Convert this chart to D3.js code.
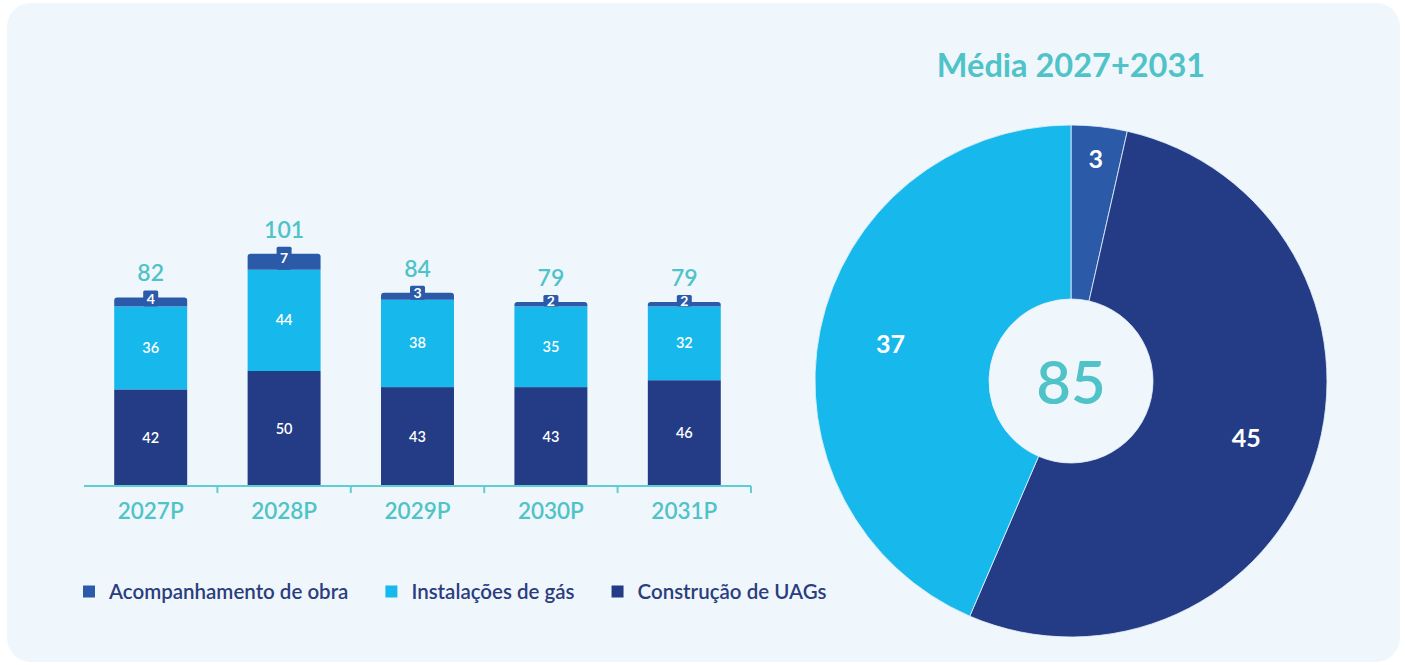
<!DOCTYPE html>
<html>
<head>
<meta charset="utf-8">
<script src="https://cdn.jsdelivr.net/npm/d3@7/dist/d3.min.js"></script>
<style>
  html, body { margin: 0; padding: 0; background: #ffffff; }
  svg { display: block; font-family: "Lato", "Open Sans", sans-serif; }
</style>
</head>
<body>
<svg id="chart" width="1405" height="665"></svg>
<script>
// Yearly investment by component (stacked, bottom to top)
const years = ["2027P", "2028P", "2029P", "2030P", "2031P"];
const construcao = [42, 50, 43, 43, 46];
const instalacoes = [36, 44, 38, 35, 32];
const acompanhamento = [4, 7, 3, 2, 2];
const totals = [82, 101, 84, 79, 79];

// Average split for the donut
const donutLabels = ["Acompanhamento de obra", "Construção de UAGs", "Instalações de gás"];
const donutValues = [3, 45, 37];
const donutTotal = 85;
const donutTitle = "Média 2027+2031";

const seriesNames = ["Acompanhamento de obra", "Instalações de gás", "Construção de UAGs"];
const colors = {
  "Acompanhamento de obra": "#2b5aa9",
  "Instalações de gás": "#17b8eb",
  "Construção de UAGs": "#233c85"
};
const teal = "#4fc3c7";
const panelFill = "#eff7fd";

const svg = d3.select("#chart");

// panel
svg.append("rect")
  .attr("x", 7).attr("y", 3).attr("width", 1393).attr("height", 659)
  .attr("rx", 24).attr("fill", panelFill);

// ---------- stacked bars ----------
const x = d3.scaleBand().domain(years).range([84, 751])
  .paddingInner(0.453).paddingOuter(0.2265);
const y = d3.scaleLinear().domain([0, 100]).range([486, 256]);

const rows = years.map((yr, i) => ({
  year: yr,
  "Construção de UAGs": construcao[i],
  "Instalações de gás": instalacoes[i],
  "Acompanhamento de obra": acompanhamento[i],
  total: totals[i]
}));
const stack = d3.stack().keys(["Construção de UAGs", "Instalações de gás", "Acompanhamento de obra"]);
const stacked = stack(rows);

const bars = svg.append("g");
const bw = x.bandwidth();

stacked.forEach(layer => {
  const isTop = layer.key === "Acompanhamento de obra";
  layer.forEach(d => {
    const x0 = x(d.data.year);
    const yTop = y(d[1]), yBot = y(d[0]);
    if (isTop) {
      const r = 3;
      const p = d3.path();
      p.moveTo(x0, yBot);
      p.lineTo(x0, yTop + r);
      p.quadraticCurveTo(x0, yTop, x0 + r, yTop);
      p.lineTo(x0 + bw - r, yTop);
      p.quadraticCurveTo(x0 + bw, yTop, x0 + bw, yTop + r);
      p.lineTo(x0 + bw, yBot);
      p.closePath();
      bars.append("path").attr("d", p.toString()).attr("fill", colors[layer.key]);
    } else {
      bars.append("rect")
        .attr("x", x0).attr("y", yTop)
        .attr("width", bw).attr("height", yBot - yTop)
        .attr("fill", colors[layer.key]);
    }
  });
});

// segment value labels for the two lower layers
stacked.slice(0, 2).forEach(layer => {
  layer.forEach(d => {
    bars.append("text")
      .attr("x", x(d.data.year) + bw / 2)
      .attr("y", (y(d[0]) + y(d[1])) / 2)
      .attr("dy", "0.35em")
      .attr("text-anchor", "middle")
      .attr("fill", "#ffffff")
      .attr("font-size", 14.5).attr("font-weight", 600)
      .text(d[1] - d[0]);
  });
});

// small top layer: label sits on a tab of the same colour
const topLayer = stacked[2];
topLayer.forEach(d => {
  const cx = x(d.data.year) + bw / 2;
  const yTop = y(d[1]), yBot = y(d[0]);
  const tabTop = yTop - 7;
  bars.append("rect")
    .attr("x", cx - 7.5).attr("y", tabTop)
    .attr("width", 15).attr("height", yBot - tabTop)
    .attr("rx", 1.5)
    .attr("fill", colors[topLayer.key]);
  bars.append("text")
    .attr("x", cx).attr("y", (tabTop + yBot) / 2)
    .attr("dy", "0.36em")
    .attr("text-anchor", "middle")
    .attr("fill", "#ffffff")
    .attr("font-size", 14).attr("font-weight", 700)
    .text(d[1] - d[0]);
  bars.append("text")
    .attr("x", cx).attr("y", tabTop - 9)
    .attr("text-anchor", "middle")
    .attr("fill", teal)
    .attr("font-size", 23).attr("font-weight", 600)
    .text(d.data.total);
});

// x axis
const axisG = svg.append("g");
axisG.append("line")
  .attr("x1", 84).attr("x2", 751).attr("y1", 486).attr("y2", 486)
  .attr("stroke", "#5dcfd3").attr("stroke-width", 2);
const gap = x.step() * x.paddingInner();
years.forEach(yr => {
  const tx = x(yr) + bw + gap / 2;
  axisG.append("line")
    .attr("x1", tx).attr("x2", tx).attr("y1", 486).attr("y2", 493)
    .attr("stroke", "#5dcfd3").attr("stroke-width", 2);
  axisG.append("text")
    .attr("x", x(yr) + bw / 2).attr("y", 519)
    .attr("text-anchor", "middle")
    .attr("fill", teal)
    .attr("font-size", 22.5).attr("font-weight", 600)
    .text(yr);
});

// legend
const legend = svg.append("g");
let lx = 83;
seriesNames.forEach(name => {
  legend.append("rect")
    .attr("x", lx).attr("y", 585.5).attr("width", 12).attr("height", 12)
    .attr("fill", colors[name]);
  const t = legend.append("text")
    .attr("x", lx + 26).attr("y", 591.5)
    .attr("dy", "0.35em")
    .attr("fill", "#2b3d7e")
    .attr("font-size", 20.5).attr("font-weight", 600)
    .text(name);
  lx += 26 + t.node().getComputedTextLength() + 37;
});

// ---------- donut ----------
const cx = 1071, cy = 381, R = 256, r0 = 82;
const pie = d3.pie().sort(null).value(d => d.value);
const arcs = pie(donutLabels.map((l, i) => ({ label: l, value: donutValues[i] })));
const arc = d3.arc().innerRadius(r0).outerRadius(R);
const donut = svg.append("g").attr("transform", `translate(${cx},${cy})`);

donut.selectAll("path").data(arcs).join("path")
  .attr("d", arc)
  .attr("fill", d => colors[d.data.label])
  .attr("stroke", "#e8f3fb").attr("stroke-width", 0.8);

donut.selectAll("text.val").data(arcs).join("text")
  .attr("class", "val")
  .attr("transform", d => {
    const share = d.data.value / donutTotal;
    const lr = share < 0.1 ? R * 0.87 : R * 0.72;
    const a = (d.startAngle + d.endAngle) / 2;
    return `translate(${Math.sin(a) * lr},${-Math.cos(a) * lr})`;
  })
  .attr("dy", "0.35em")
  .attr("text-anchor", "middle")
  .attr("fill", "#ffffff")
  .attr("font-size", 25).attr("font-weight", 700)
  .text(d => d.data.value);

donut.append("text")
  .attr("y", 2).attr("dy", "0.35em")
  .attr("text-anchor", "middle")
  .attr("fill", teal)
  .attr("font-size", 60).attr("font-weight", 600)
  .text(donutTotal);

svg.append("text")
  .attr("x", cx).attr("y", 77)
  .attr("text-anchor", "middle")
  .attr("fill", teal)
  .attr("font-size", 32.5).attr("font-weight", 700)
  .text(donutTitle);
</script>
</body>
</html>
